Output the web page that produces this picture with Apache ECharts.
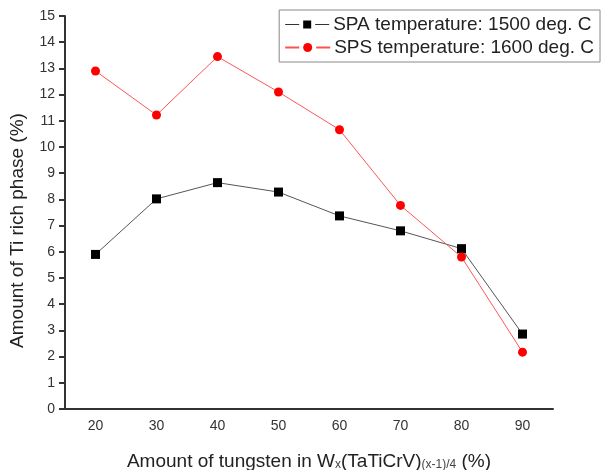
<!DOCTYPE html>
<html>
<head>
<meta charset="utf-8">
<script src="https://cdn.jsdelivr.net/npm/echarts@6/dist/echarts.min.js"></script>
<style>
html,body{margin:0;padding:0;background:#fff;}
#chart{width:602px;height:470px;}
</style>
</head>
<body>
<div id="chart"></div>
<script>
// x categories: tungsten amount (%)
const categories = ['20', '30', '40', '50', '60', '70', '80', '90']
// Ti rich phase amount (%)
const spaValues = [5.9, 8.02, 8.64, 8.28, 7.37, 6.8, 6.12, 2.86]
const spsValues = [12.9, 11.22, 13.45, 12.1, 10.66, 7.77, 5.8, 2.17]
const seriesNames = ['SPA temperature: 1500 deg. C', 'SPS temperature: 1600 deg. C']

const font = 'Liberation Sans, Arial, sans-serif'
const axisColor = '#333'

let myChart = echarts.init(document.getElementById('chart'))
let options = {
  animation: false,
  grid: { left: 65, right: 49, top: 16, bottom: 61, outerBoundsMode: 'none' },
  legend: {
    right: 2,
    top: 10,
    orient: 'vertical',
    icon: 'none',
    itemWidth: 0,
    itemHeight: 10,
    itemGap: 4,
    padding: [5, 6, 5, 1],
    borderColor: '#888',
    borderWidth: 1,
    // legend marks drawn as rich text: line - marker - line
    formatter: (name) => {
      if (name === seriesNames[0]) {
        return '{lk|}{g|}{sq|}{g|}{lk|}{g2|}{t|' + name + '}'
      }
      return '{lr|}{g|}{ci|}{g|}{lr|}{g2|}{t|' + name + '}'
    },
    textStyle: {
      fontFamily: font, fontSize: 19, color: '#222',
      rich: {
        lk: { width: 14, height: 1, backgroundColor: '#333', verticalAlign: 'middle' },
        lr: { width: 14, height: 2, backgroundColor: '#ff5050', verticalAlign: 'middle' },
        g: { width: 4, height: 1, verticalAlign: 'middle' },
        g2: { width: 4, height: 1, verticalAlign: 'middle' },
        sq: { width: 8, height: 8, backgroundColor: '#000', verticalAlign: 'middle' },
        ci: { width: 9, height: 9, borderRadius: 4.5, backgroundColor: '#ff0000', verticalAlign: 'middle' },
        t: { fontFamily: font, fontSize: 19, color: '#222', verticalAlign: 'middle', lineHeight: 23 }
      }
    },
    data: seriesNames
  },
  xAxis: {
    type: 'category',
    data: categories,
    boundaryGap: true,
    name: 'Amount of tungsten in W{sub|x}(TaTiCrV){sub|(x-1)/4} (%)',
    nameLocation: 'middle',
    nameGap: 43,
    nameTextStyle: {
      fontFamily: font, fontSize: 19, color: '#222',
      rich: { sub: { fontFamily: font, fontSize: 12, color: '#444', verticalAlign: 'bottom', padding: [7, 0, 0, 0] } }
    },
    axisLine: { lineStyle: { color: axisColor, width: 2 } },
    axisTick: { alignWithLabel: true, length: 6, lineStyle: { color: axisColor, width: 2 } },
    axisLabel: { fontFamily: font, fontSize: 14, color: '#333', margin: 10 },
    splitLine: { show: false }
  },
  yAxis: {
    type: 'value',
    min: 0,
    max: 15,
    interval: 1,
    name: 'Amount of Ti rich phase (%)',
    nameLocation: 'middle',
    nameGap: 38,
    nameTextStyle: { fontFamily: font, fontSize: 19, color: '#222', padding: [0, 36, 0, 0] },
    axisLine: { show: true, lineStyle: { color: axisColor, width: 2 } },
    axisTick: { show: true, length: 6, lineStyle: { color: axisColor, width: 2 } },
    axisLabel: { fontFamily: font, fontSize: 14, color: '#333', margin: 10 },
    splitLine: { show: false }
  },
  series: [
    {
      name: seriesNames[0],
      type: 'line',
      data: spaValues,
      symbol: 'rect',
      symbolSize: 9,
      itemStyle: { color: '#000' },
      lineStyle: { color: '#555', width: 1 }
    },
    {
      name: seriesNames[1],
      type: 'line',
      data: spsValues,
      symbol: 'circle',
      symbolSize: 9,
      itemStyle: { color: '#ff0000' },
      lineStyle: { color: '#ff5555', width: 1 }
    }
  ]
}
myChart.setOption(options)
</script>
</body>
</html>
